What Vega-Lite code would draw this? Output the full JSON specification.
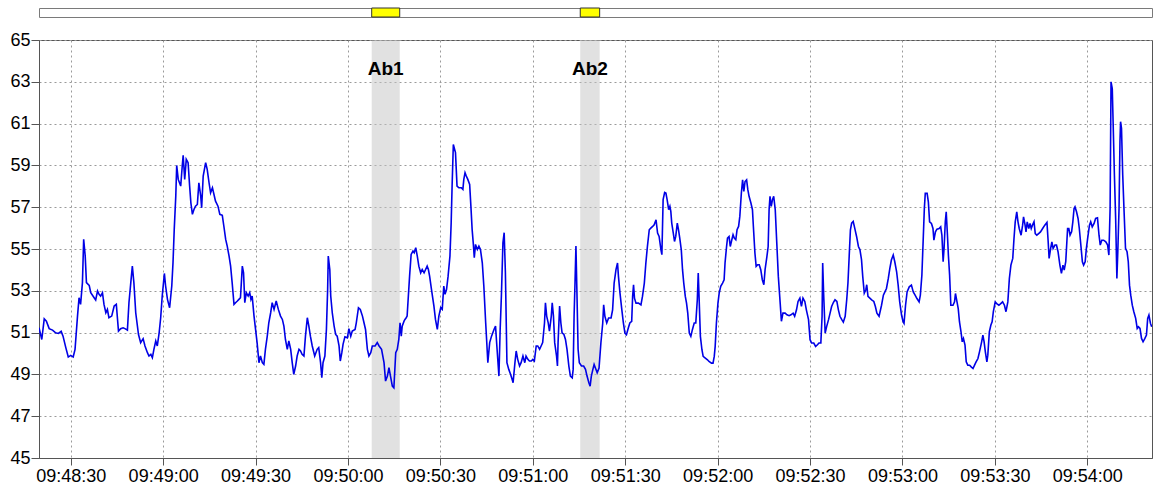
{
  "$schema": "https://vega.github.io/schema/vega-lite/v6.json",
  "background": "white",
  "padding": {"left": 9, "top": 7, "right": 0, "bottom": 0},
  "config": {"font": "Liberation Sans", "view": {"stroke": "#555555"}},
  "spacing": 12,
  "datasets": {
    "bands": [
      {"name": "Ab1", "start": 35407.7, "end": 35416.8, "mid": 35412.25},
      {"name": "Ab2", "start": 35475.4, "end": 35481.7, "mid": 35478.55}
    ],
    "series": [
      {"t":35299.7,"v":51.23},{"t":35300.6,"v":50.67},{"t":35301.4,"v":51.66},{"t":35302.1,"v":51.55},{"t":35303.0,"v":51.19},{"t":35304.1,"v":51.12},{"t":35305.1,"v":50.99},{"t":35306.0,"v":50.96},{"t":35306.9,"v":51.06},{"t":35307.5,"v":50.83},{"t":35308.4,"v":50.28},{"t":35309.2,"v":49.83},{"t":35310.0,"v":49.91},{"t":35310.8,"v":49.83},{"t":35311.4,"v":50.20},{"t":35312.2,"v":51.79},{"t":35312.7,"v":52.67},{"t":35313.2,"v":52.35},{"t":35313.8,"v":53.39},{"t":35314.2,"v":55.46},{"t":35314.7,"v":54.66},{"t":35315.1,"v":53.39},{"t":35316.0,"v":53.26},{"t":35316.5,"v":52.91},{"t":35317.6,"v":52.67},{"t":35318.1,"v":52.56},{"t":35318.7,"v":52.99},{"t":35319.2,"v":52.83},{"t":35319.7,"v":52.75},{"t":35320.3,"v":52.91},{"t":35320.8,"v":52.35},{"t":35321.4,"v":51.95},{"t":35321.9,"v":52.11},{"t":35322.4,"v":51.71},{"t":35323.3,"v":51.79},{"t":35324.1,"v":52.27},{"t":35324.8,"v":52.35},{"t":35325.5,"v":51.07},{"t":35326.2,"v":51.19},{"t":35327.0,"v":51.23},{"t":35327.6,"v":51.19},{"t":35328.4,"v":51.12},{"t":35328.9,"v":52.43},{"t":35329.5,"v":53.39},{"t":35330.0,"v":54.18},{"t":35330.5,"v":53.39},{"t":35331.1,"v":51.95},{"t":35332.0,"v":50.91},{"t":35332.7,"v":50.52},{"t":35333.5,"v":50.71},{"t":35334.1,"v":50.36},{"t":35334.9,"v":50.04},{"t":35335.4,"v":49.88},{"t":35336.0,"v":49.96},{"t":35336.5,"v":49.80},{"t":35337.0,"v":50.20},{"t":35337.6,"v":50.60},{"t":35338.1,"v":50.36},{"t":35338.7,"v":50.99},{"t":35339.2,"v":51.71},{"t":35339.7,"v":52.75},{"t":35340.4,"v":53.83},{"t":35340.8,"v":53.23},{"t":35341.4,"v":52.59},{"t":35342.1,"v":52.19},{"t":35342.8,"v":53.23},{"t":35343.2,"v":54.34},{"t":35343.6,"v":55.94},{"t":35344.1,"v":57.53},{"t":35344.4,"v":59.00},{"t":35344.9,"v":58.33},{"t":35345.7,"v":58.01},{"t":35346.2,"v":58.97},{"t":35346.5,"v":59.48},{"t":35347.0,"v":58.33},{"t":35347.5,"v":59.29},{"t":35348.1,"v":59.13},{"t":35348.6,"v":58.01},{"t":35349.0,"v":57.21},{"t":35349.5,"v":56.66},{"t":35350.0,"v":56.89},{"t":35350.5,"v":57.05},{"t":35351.1,"v":57.13},{"t":35351.6,"v":58.17},{"t":35352.2,"v":57.53},{"t":35352.5,"v":56.97},{"t":35353.0,"v":58.49},{"t":35353.8,"v":59.13},{"t":35354.3,"v":58.81},{"t":35354.9,"v":58.17},{"t":35355.4,"v":57.69},{"t":35356.0,"v":57.93},{"t":35356.5,"v":57.61},{"t":35357.0,"v":57.29},{"t":35357.8,"v":57.05},{"t":35358.4,"v":56.66},{"t":35359.2,"v":56.61},{"t":35359.7,"v":56.10},{"t":35360.3,"v":55.46},{"t":35360.8,"v":55.14},{"t":35361.4,"v":54.66},{"t":35361.9,"v":54.18},{"t":35362.4,"v":53.39},{"t":35363.0,"v":52.35},{"t":35363.5,"v":52.43},{"t":35364.1,"v":52.51},{"t":35364.6,"v":52.59},{"t":35365.1,"v":52.67},{"t":35365.7,"v":54.18},{"t":35366.1,"v":53.86},{"t":35366.5,"v":52.43},{"t":35367.0,"v":52.91},{"t":35367.6,"v":52.75},{"t":35368.1,"v":52.91},{"t":35368.5,"v":52.59},{"t":35368.9,"v":52.75},{"t":35369.5,"v":51.79},{"t":35370.0,"v":51.15},{"t":35370.5,"v":50.52},{"t":35371.1,"v":49.56},{"t":35371.6,"v":49.88},{"t":35372.2,"v":49.56},{"t":35372.7,"v":49.48},{"t":35373.2,"v":50.20},{"t":35373.8,"v":50.83},{"t":35374.3,"v":51.47},{"t":35374.9,"v":51.95},{"t":35375.4,"v":52.43},{"t":35376.0,"v":52.11},{"t":35376.7,"v":52.51},{"t":35377.4,"v":52.11},{"t":35378.1,"v":51.79},{"t":35378.7,"v":51.63},{"t":35379.2,"v":51.31},{"t":35379.7,"v":50.67},{"t":35380.3,"v":50.20},{"t":35380.8,"v":50.60},{"t":35381.4,"v":50.20},{"t":35381.9,"v":49.56},{"t":35382.4,"v":49.00},{"t":35383.0,"v":49.40},{"t":35383.5,"v":49.88},{"t":35384.1,"v":50.20},{"t":35384.6,"v":50.12},{"t":35385.1,"v":49.96},{"t":35385.7,"v":49.88},{"t":35386.2,"v":50.83},{"t":35386.8,"v":51.71},{"t":35387.3,"v":51.31},{"t":35387.8,"v":50.83},{"t":35388.4,"v":50.36},{"t":35389.2,"v":49.88},{"t":35390.0,"v":50.20},{"t":35390.5,"v":50.28},
      {"t":35391.1,"v":49.56},{"t":35391.5,"v":48.84},{"t":35391.9,"v":49.56},{"t":35392.5,"v":49.88},{"t":35393.0,"v":51.15},{"t":35393.4,"v":53.07},{"t":35393.6,"v":54.66},{"t":35394.1,"v":54.02},{"t":35394.4,"v":52.75},{"t":35394.9,"v":51.95},{"t":35395.5,"v":51.31},{"t":35396.0,"v":50.91},{"t":35396.5,"v":50.83},{"t":35397.1,"v":50.36},{"t":35397.5,"v":49.64},{"t":35398.0,"v":50.04},{"t":35398.4,"v":50.44},{"t":35399.0,"v":50.80},{"t":35399.8,"v":50.75},{"t":35400.3,"v":51.19},{"t":35400.9,"v":50.83},{"t":35401.4,"v":51.07},{"t":35402.3,"v":51.15},{"t":35402.7,"v":51.47},{"t":35403.4,"v":52.19},{"t":35404.0,"v":52.11},{"t":35404.7,"v":51.79},{"t":35405.2,"v":51.47},{"t":35405.7,"v":51.15},{"t":35406.3,"v":50.20},{"t":35406.8,"v":49.88},{"t":35407.4,"v":50.04},{"t":35407.9,"v":50.36},{"t":35408.8,"v":50.36},{"t":35409.5,"v":50.52},{"t":35410.1,"v":50.36},{"t":35410.9,"v":50.20},{"t":35411.7,"v":49.56},{"t":35412.2,"v":48.68},{"t":35412.8,"v":48.92},{"t":35413.3,"v":49.32},{"t":35413.8,"v":48.92},{"t":35414.4,"v":48.44},{"t":35414.9,"v":48.36},{"t":35415.5,"v":50.04},{"t":35416.0,"v":50.20},{"t":35416.5,"v":50.67},{"t":35416.9,"v":51.47},{"t":35417.3,"v":50.83},{"t":35417.6,"v":51.31},{"t":35418.2,"v":51.55},{"t":35418.5,"v":51.63},{"t":35418.9,"v":51.71},{"t":35419.2,"v":51.79},{"t":35419.6,"v":52.75},{"t":35420.0,"v":53.70},{"t":35420.5,"v":54.74},{"t":35421.1,"v":54.90},{"t":35421.5,"v":54.82},{"t":35422.0,"v":55.06},{"t":35422.5,"v":54.66},{"t":35423.0,"v":54.18},{"t":35423.6,"v":53.86},{"t":35424.1,"v":54.02},{"t":35424.7,"v":53.86},{"t":35425.2,"v":54.02},{"t":35425.7,"v":54.18},{"t":35426.1,"v":54.02},{"t":35426.5,"v":53.70},{"t":35427.1,"v":53.07},{"t":35427.9,"v":52.27},{"t":35428.4,"v":51.63},{"t":35429.0,"v":51.15},{"t":35429.5,"v":51.79},{"t":35430.1,"v":52.19},{"t":35430.6,"v":52.11},{"t":35431.1,"v":53.23},{"t":35431.5,"v":52.83},{"t":35432.0,"v":53.07},{"t":35432.5,"v":53.70},{"t":35433.1,"v":54.66},{"t":35433.5,"v":56.26},{"t":35433.8,"v":58.01},{"t":35434.2,"v":60.00},{"t":35434.6,"v":59.77},{"t":35434.9,"v":59.61},{"t":35435.4,"v":58.01},{"t":35436.0,"v":57.93},{"t":35436.8,"v":57.93},{"t":35437.3,"v":57.85},{"t":35437.6,"v":58.33},{"t":35438.0,"v":58.65},{"t":35438.4,"v":58.49},{"t":35438.9,"v":58.33},{"t":35439.5,"v":58.09},{"t":35439.9,"v":57.05},{"t":35440.3,"v":55.94},{"t":35440.7,"v":55.22},{"t":35441.0,"v":54.58},{"t":35441.4,"v":55.22},{"t":35442.0,"v":54.98},{"t":35442.5,"v":55.14},{"t":35443.0,"v":54.98},{"t":35443.6,"v":54.34},{"t":35444.1,"v":53.23},{"t":35444.7,"v":51.47},{"t":35445.0,"v":50.67},{"t":35445.4,"v":49.56},{"t":35446.0,"v":50.52},{"t":35446.6,"v":50.83},{"t":35447.4,"v":51.15},{"t":35447.9,"v":51.31},{"t":35448.4,"v":50.20},{"t":35449.0,"v":48.92},{"t":35449.4,"v":51.15},{"t":35449.8,"v":52.75},{"t":35450.3,"v":55.30},{"t":35450.7,"v":55.78},{"t":35451.1,"v":53.86},{"t":35451.6,"v":49.56},{"t":35452.2,"v":49.24},{"t":35452.8,"v":49.00},{"t":35453.3,"v":48.76},{"t":35453.6,"v":48.60},{"t":35454.2,"v":49.56},{"t":35454.6,"v":50.12},{"t":35455.1,"v":49.72},{"t":35455.7,"v":49.40},{"t":35456.2,"v":49.56},{"t":35456.8,"v":49.88},{"t":35457.4,"v":49.56},{"t":35457.8,"v":49.88},{"t":35458.4,"v":49.72},{"t":35458.9,"v":49.64},{"t":35459.5,"v":49.64},{"t":35460.0,"v":49.72},{"t":35460.5,"v":49.64},{"t":35461.1,"v":50.36},{"t":35461.6,"v":50.36},{"t":35462.2,"v":50.20},{"t":35462.7,"v":50.36},{"t":35463.2,"v":50.52},{"t":35463.8,"v":51.47},{"t":35464.1,"v":52.43},{"t":35464.5,"v":51.79},{"t":35465.0,"v":51.47},{"t":35465.4,"v":51.07},{"t":35466.0,"v":51.79},{"t":35466.3,"v":52.43},{"t":35466.7,"v":51.79},{"t":35467.1,"v":50.52},{"t":35467.7,"v":49.88},{"t":35468.0,"v":49.40},{"t":35468.2,"v":50.52},{"t":35468.7,"v":52.27},{"t":35469.1,"v":51.47},{"t":35469.5,"v":50.99},{"t":35470.1,"v":50.91},{"t":35470.6,"v":50.67},{"t":35471.1,"v":50.20},{"t":35471.7,"v":49.40},{"t":35472.2,"v":48.92},{"t":35472.8,"v":48.84},{"t":35473.1,"v":49.24},{"t":35473.4,"v":51.79},{"t":35473.7,"v":53.39},{"t":35474.0,"v":55.14},{"t":35474.3,"v":53.07},{"t":35474.7,"v":50.20},{"t":35475.1,"v":49.56},{"t":35475.8,"v":49.40},{"t":35476.5,"v":49.40},{"t":35477.1,"v":49.24},{"t":35477.6,"v":48.92},{"t":35478.2,"v":48.60},{"t":35478.6,"v":48.44},{"t":35479.0,"v":48.92},{"t":35479.5,"v":49.24},{"t":35479.9,"v":49.48},{"t":35480.3,"v":49.32},{"t":35480.9,"v":49.08},{"t":35481.5,"v":49.30},
      {"t":35482.1,"v":50.50},{"t":35482.7,"v":51.46},{"t":35483.0,"v":52.33},{"t":35483.4,"v":51.78},{"t":35484.0,"v":51.46},{"t":35484.6,"v":51.70},{"t":35485.4,"v":51.70},{"t":35485.9,"v":52.09},{"t":35486.4,"v":53.37},{"t":35487.0,"v":54.01},{"t":35487.5,"v":54.33},{"t":35487.8,"v":53.69},{"t":35488.3,"v":52.89},{"t":35488.9,"v":52.09},{"t":35489.4,"v":51.46},{"t":35489.9,"v":50.98},{"t":35490.4,"v":50.90},{"t":35491.0,"v":51.22},{"t":35491.5,"v":51.46},{"t":35492.1,"v":51.54},{"t":35492.4,"v":52.73},{"t":35492.7,"v":53.29},{"t":35493.0,"v":52.65},{"t":35493.5,"v":52.41},{"t":35494.3,"v":52.41},{"t":35495.1,"v":52.33},{"t":35495.6,"v":52.73},{"t":35496.2,"v":53.37},{"t":35496.7,"v":54.33},{"t":35497.2,"v":55.12},{"t":35497.8,"v":55.92},{"t":35498.3,"v":56.00},{"t":35498.9,"v":56.08},{"t":35499.4,"v":56.16},{"t":35500.0,"v":56.40},{"t":35500.5,"v":55.76},{"t":35501.0,"v":55.60},{"t":35501.6,"v":54.96},{"t":35501.9,"v":54.73},{"t":35502.3,"v":57.36},{"t":35502.8,"v":57.71},{"t":35503.2,"v":57.68},{"t":35503.6,"v":57.36},{"t":35504.1,"v":56.88},{"t":35504.5,"v":57.04},{"t":35504.8,"v":56.80},{"t":35505.1,"v":56.24},{"t":35505.6,"v":55.76},{"t":35506.0,"v":55.36},{"t":35506.4,"v":55.60},{"t":35506.9,"v":56.24},{"t":35507.3,"v":55.92},{"t":35507.7,"v":55.52},{"t":35508.2,"v":54.96},{"t":35508.6,"v":54.01},{"t":35509.0,"v":53.37},{"t":35509.5,"v":52.73},{"t":35509.9,"v":52.41},{"t":35510.3,"v":51.93},{"t":35510.8,"v":50.98},{"t":35511.3,"v":50.82},{"t":35511.8,"v":51.14},{"t":35512.4,"v":51.46},{"t":35512.9,"v":51.46},{"t":35513.4,"v":52.57},{"t":35513.7,"v":53.85},{"t":35514.0,"v":52.57},{"t":35514.4,"v":50.82},{"t":35514.9,"v":50.18},{"t":35515.3,"v":49.86},{"t":35516.0,"v":49.78},{"t":35516.7,"v":49.70},{"t":35517.2,"v":49.62},{"t":35518.0,"v":49.54},{"t":35518.5,"v":49.54},{"t":35518.9,"v":49.86},{"t":35519.2,"v":50.34},{"t":35519.6,"v":51.46},{"t":35520.1,"v":52.41},{"t":35520.5,"v":52.89},{"t":35521.0,"v":53.21},{"t":35521.6,"v":53.37},{"t":35522.1,"v":53.53},{"t":35522.4,"v":54.33},{"t":35522.9,"v":55.12},{"t":35523.2,"v":55.52},{"t":35523.7,"v":55.60},{"t":35524.1,"v":55.12},{"t":35524.6,"v":55.44},{"t":35525.0,"v":55.68},{"t":35525.4,"v":55.52},{"t":35525.9,"v":55.44},{"t":35526.3,"v":55.92},{"t":35526.8,"v":56.08},{"t":35527.2,"v":56.56},{"t":35527.7,"v":57.68},{"t":35528.1,"v":58.31},{"t":35528.5,"v":57.76},{"t":35528.9,"v":58.23},{"t":35529.4,"v":58.31},{"t":35529.8,"v":57.84},{"t":35530.2,"v":57.52},{"t":35530.8,"v":57.20},{"t":35531.3,"v":56.88},{"t":35531.6,"v":56.08},{"t":35532.1,"v":54.81},{"t":35532.5,"v":54.17},{"t":35533.0,"v":54.25},{"t":35533.5,"v":54.25},{"t":35534.0,"v":54.01},{"t":35534.5,"v":53.53},{"t":35535.0,"v":53.29},{"t":35535.4,"v":54.01},{"t":35536.0,"v":54.65},{"t":35536.4,"v":55.12},{"t":35536.7,"v":56.88},{"t":35537.0,"v":57.52},{"t":35537.4,"v":57.04},{"t":35537.8,"v":57.36},{"t":35538.2,"v":57.52},{"t":35538.7,"v":56.88},{"t":35539.2,"v":55.28},{"t":35539.7,"v":53.69},{"t":35540.3,"v":52.41},{"t":35540.7,"v":51.54},{"t":35541.2,"v":51.93},{"t":35541.9,"v":51.93},{"t":35542.5,"v":51.85},{"t":35543.2,"v":51.81},{"t":35543.8,"v":51.85},{"t":35544.5,"v":51.93},{"t":35545.0,"v":51.78},{"t":35545.6,"v":52.09},{"t":35546.1,"v":52.49},{"t":35546.7,"v":52.65},{"t":35547.2,"v":52.25},{"t":35547.7,"v":52.65},{"t":35548.3,"v":52.49},{"t":35548.8,"v":52.09},{"t":35549.5,"v":51.62},{"t":35550.0,"v":50.66},{"t":35550.5,"v":50.50},{"t":35551.2,"v":50.50},{"t":35551.8,"v":50.34},{"t":35552.4,"v":50.42},{"t":35552.9,"v":50.50},{"t":35553.5,"v":50.50},{"t":35553.9,"v":51.78},{"t":35554.1,"v":54.33},{"t":35554.4,"v":52.89},{"t":35554.9,"v":50.98},{"t":35555.4,"v":51.30},{"t":35556.0,"v":51.62},{"t":35556.5,"v":51.93},{"t":35557.0,"v":52.25},{"t":35557.6,"v":52.45},{"t":35558.1,"v":52.57},{"t":35558.7,"v":52.49},{"t":35559.2,"v":52.09},{"t":35559.7,"v":51.78},{"t":35560.3,"v":51.62},{"t":35560.8,"v":51.50},{"t":35561.4,"v":51.78},{"t":35561.9,"v":52.57},{"t":35562.3,"v":53.37},{"t":35562.7,"v":54.65},{"t":35563.1,"v":55.92},{"t":35563.5,"v":56.24},{"t":35564.0,"v":56.32},{"t":35564.5,"v":56.00},{"t":35565.1,"v":55.60},{"t":35565.7,"v":55.12},{"t":35566.2,"v":54.96},{"t":35566.7,"v":54.49},{"t":35567.1,"v":53.69},{"t":35567.6,"v":52.89},{"t":35568.1,"v":53.05},{"t":35568.4,"v":53.29},{"t":35568.8,"v":52.73},{"t":35569.4,"v":52.65},{"t":35570.0,"v":52.57},{"t":35570.7,"v":52.49},{"t":35571.2,"v":52.25},{"t":35571.7,"v":51.93},{"t":35572.4,"v":51.78},
      {"t":35573.2,"v":52.31},{"t":35573.8,"v":52.79},{"t":35574.3,"v":52.95},{"t":35574.8,"v":53.11},{"t":35575.4,"v":53.59},{"t":35575.9,"v":54.07},{"t":35576.4,"v":54.47},{"t":35577.0,"v":54.71},{"t":35577.5,"v":54.39},{"t":35578.1,"v":53.91},{"t":35578.6,"v":53.27},{"t":35579.1,"v":52.47},{"t":35579.7,"v":51.84},{"t":35580.2,"v":51.52},{"t":35580.5,"v":51.44},{"t":35581.0,"v":52.31},{"t":35581.5,"v":52.95},{"t":35582.2,"v":53.19},{"t":35582.9,"v":53.27},{"t":35583.5,"v":52.95},{"t":35584.1,"v":52.79},{"t":35584.7,"v":52.63},{"t":35585.4,"v":52.47},{"t":35585.8,"v":52.79},{"t":35586.3,"v":53.75},{"t":35586.7,"v":55.34},{"t":35587.1,"v":56.94},{"t":35587.4,"v":57.66},{"t":35588.0,"v":57.66},{"t":35588.4,"v":57.26},{"t":35588.8,"v":56.30},{"t":35589.4,"v":56.22},{"t":35589.9,"v":55.98},{"t":35590.2,"v":55.42},{"t":35590.7,"v":55.82},{"t":35591.2,"v":55.95},{"t":35591.9,"v":55.98},{"t":35592.4,"v":56.06},{"t":35592.8,"v":55.66},{"t":35593.2,"v":54.39},{"t":35593.5,"v":55.03},{"t":35593.9,"v":56.30},{"t":35594.2,"v":56.78},{"t":35594.6,"v":55.66},{"t":35594.9,"v":54.71},{"t":35595.3,"v":53.75},{"t":35595.7,"v":52.31},{"t":35596.4,"v":52.31},{"t":35596.9,"v":52.47},{"t":35597.2,"v":52.87},{"t":35597.7,"v":52.47},{"t":35598.1,"v":52.15},{"t":35598.5,"v":51.52},{"t":35599.0,"v":51.04},{"t":35599.4,"v":50.56},{"t":35599.8,"v":50.72},{"t":35600.3,"v":50.40},{"t":35600.7,"v":49.60},{"t":35601.2,"v":49.44},{"t":35601.8,"v":49.44},{"t":35602.3,"v":49.36},{"t":35602.9,"v":49.28},{"t":35603.4,"v":49.44},{"t":35603.9,"v":49.60},{"t":35604.5,"v":49.76},{"t":35605.0,"v":50.08},{"t":35605.7,"v":50.56},{"t":35606.1,"v":50.88},{"t":35606.5,"v":50.56},{"t":35606.9,"v":50.08},{"t":35607.4,"v":49.60},{"t":35607.7,"v":49.92},{"t":35608.2,"v":51.04},{"t":35608.7,"v":51.36},{"t":35609.1,"v":51.52},{"t":35609.5,"v":52.00},{"t":35610.1,"v":52.47},{"t":35610.6,"v":52.39},{"t":35611.3,"v":52.31},{"t":35611.9,"v":52.39},{"t":35612.5,"v":52.47},{"t":35613.1,"v":52.31},{"t":35613.6,"v":52.00},{"t":35614.2,"v":52.47},{"t":35614.7,"v":53.59},{"t":35615.2,"v":54.23},{"t":35615.8,"v":54.55},{"t":35616.2,"v":55.50},{"t":35616.6,"v":56.30},{"t":35617.1,"v":56.78},{"t":35617.5,"v":56.30},{"t":35617.9,"v":55.98},{"t":35618.5,"v":55.66},{"t":35619.0,"v":56.14},{"t":35619.3,"v":56.54},{"t":35619.8,"v":56.14},{"t":35620.1,"v":55.82},{"t":35620.5,"v":56.30},{"t":35621.0,"v":55.98},{"t":35621.4,"v":56.22},{"t":35621.8,"v":55.98},{"t":35622.2,"v":56.14},{"t":35622.7,"v":56.30},{"t":35623.1,"v":55.74},{"t":35623.6,"v":55.66},{"t":35624.2,"v":55.74},{"t":35624.8,"v":55.82},{"t":35625.5,"v":55.98},{"t":35626.2,"v":56.14},{"t":35626.9,"v":56.27},{"t":35627.3,"v":55.34},{"t":35627.6,"v":54.55},{"t":35628.1,"v":55.03},{"t":35628.5,"v":55.34},{"t":35628.9,"v":55.03},{"t":35629.5,"v":55.19},{"t":35630.0,"v":55.19},{"t":35630.5,"v":54.87},{"t":35631.1,"v":54.23},{"t":35631.6,"v":53.83},{"t":35632.1,"v":54.23},{"t":35632.5,"v":53.99},{"t":35633.0,"v":54.39},{"t":35633.6,"v":55.98},{"t":35634.0,"v":55.98},{"t":35634.4,"v":55.66},{"t":35634.9,"v":55.82},{"t":35635.3,"v":56.30},{"t":35635.7,"v":56.94},{"t":35636.0,"v":57.02},{"t":35636.5,"v":56.78},{"t":35637.0,"v":56.46},{"t":35637.4,"v":55.98},{"t":35638.0,"v":55.03},{"t":35638.4,"v":54.39},{"t":35638.8,"v":54.23},{"t":35639.3,"v":54.39},{"t":35639.7,"v":55.03},{"t":35640.1,"v":55.50},{"t":35640.7,"v":56.14},{"t":35641.1,"v":56.30},{"t":35641.6,"v":56.06},{"t":35642.2,"v":56.22},{"t":35642.7,"v":56.46},{"t":35643.3,"v":56.49},{"t":35643.8,"v":55.66},{"t":35644.2,"v":55.19},{"t":35644.7,"v":55.42},{"t":35645.3,"v":55.42},{"t":35646.0,"v":55.34},{"t":35646.6,"v":55.19},{"t":35647.0,"v":54.71},{"t":35647.4,"v":56.94},{"t":35647.7,"v":63.00},{"t":35648.1,"v":62.68},{"t":35648.4,"v":60.93},{"t":35648.8,"v":58.53},{"t":35649.2,"v":56.46},{"t":35649.6,"v":53.59},{"t":35649.9,"v":54.87},{"t":35650.3,"v":56.94},{"t":35650.6,"v":60.13},{"t":35650.8,"v":61.09},{"t":35651.1,"v":60.77},{"t":35651.5,"v":58.53},{"t":35651.9,"v":56.94},{"t":35652.4,"v":55.03},{"t":35652.9,"v":54.87},{"t":35653.3,"v":54.39},{"t":35653.7,"v":53.27},{"t":35654.1,"v":52.79},{"t":35654.6,"v":52.31},{"t":35655.1,"v":52.00},{"t":35655.7,"v":51.68},{"t":35656.2,"v":51.20},{"t":35656.6,"v":51.28},{"t":35657.1,"v":51.20},{"t":35657.6,"v":50.72},{"t":35658.1,"v":50.56},{"t":35658.7,"v":50.72},{"t":35659.2,"v":50.88},{"t":35659.6,"v":51.68},{"t":35660.0,"v":51.84},{"t":35660.5,"v":51.44},{"t":35660.9,"v":51.28}
    ]
  },
  "vconcat": [
    {
      "width": 1113,
      "height": 9,
      "view": {"stroke": "#7a7a7a", "fill": "white"},
      "data": {"name": "bands"},
      "mark": {"type": "rect", "fill": "#ffff00", "stroke": "#333333", "strokeWidth": 1},
      "encoding": {
        "x": {"field": "start", "type": "quantitative", "scale": {"domain": [35299.7, 35661], "nice": false, "zero": false}, "axis": null},
        "x2": {"field": "end"}
      }
    },
    {
      "width": 1113,
      "height": 418,
      "layer": [
        {
          "data": {"name": "bands"},
          "mark": {"type": "rect", "fill": "#c4c4c4", "opacity": 0.5},
          "encoding": {
            "x": {"field": "start", "type": "quantitative", "scale": {"domain": [35299.7, 35661], "nice": false, "zero": false}},
            "x2": {"field": "end"}
          }
        },
        {
          "data": {"name": "series"},
          "mark": {"type": "line", "color": "#0000e6", "strokeWidth": 1.6, "clip": true},
          "encoding": {
            "x": {
              "field": "t", "type": "quantitative",
              "scale": {"domain": [35299.7, 35661], "nice": false, "zero": false},
              "axis": {
                "values": [35310, 35340, 35370, 35400, 35430, 35460, 35490, 35520, 35550, 35580, 35610, 35640],
                "labelExpr": "utcFormat(datum.value * 1000, '%H:%M:%S')",
                "title": null, "grid": true, "gridColor": "#9a9a9a", "gridDash": [2, 3],
                "tickSize": 7, "labelPadding": 2, "labelFontSize": 18, "labelColor": "#000000",
                "domainColor": "#555555", "tickColor": "#555555", "labelFlush": false, "labelOverlap": false
              }
            },
            "y": {
              "field": "v", "type": "quantitative",
              "scale": {"domain": [45, 65], "nice": false, "zero": false},
              "axis": {
                "values": [45, 47, 49, 51, 53, 55, 57, 59, 61, 63, 65],
                "title": null, "grid": true, "gridColor": "#9a9a9a", "gridDash": [2, 3],
                "tickSize": 8, "labelPadding": 1, "labelFontSize": 18, "labelColor": "#000000",
                "domainColor": "#555555", "tickColor": "#555555", "labelFlush": false, "labelOverlap": false
              }
            }
          }
        },
        {
          "data": {"name": "bands"},
          "mark": {"type": "text", "fontWeight": "bold", "fontSize": 19, "baseline": "alphabetic", "align": "center", "color": "#000000"},
          "encoding": {
            "x": {"field": "mid", "type": "quantitative"},
            "y": {"datum": 63.33},
            "text": {"field": "name"}
          }
        }
      ]
    }
  ]
}
